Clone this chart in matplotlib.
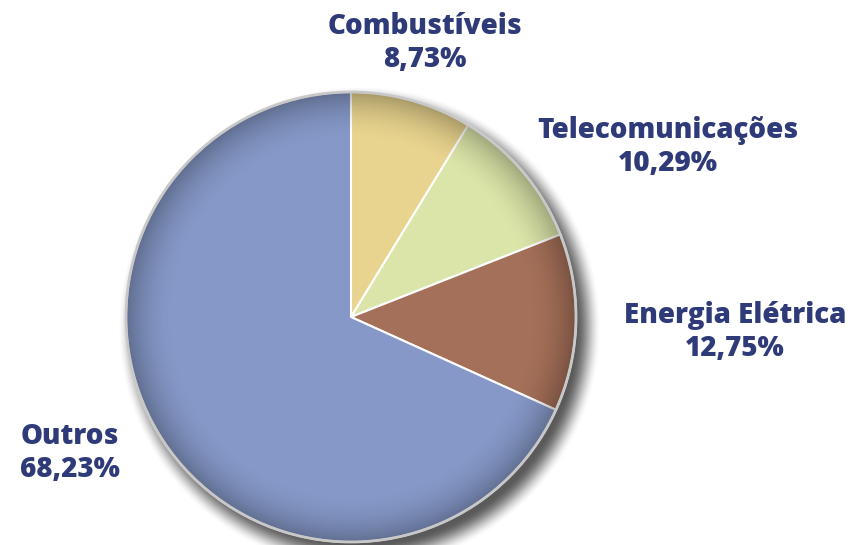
import numpy as np
import matplotlib
matplotlib.use("Agg")
import matplotlib.pyplot as plt
from matplotlib.patches import Circle

# shares of each category (%)
labels = ["Combustíveis", "Telecomunicações", "Energia Elétrica", "Outros"]
values = [8.73, 10.29, 12.75, 68.23]
colors = ["#E8D48E", "#DCE5A9", "#A57059", "#8598C7"]
label_pos = [(425, 502), (668, 398), (735, 213), (70, 92)]

text_color = "#2F3A78"

W, H = 848, 545
fig = plt.figure(figsize=(W / 100, H / 100), dpi=100)
ax = fig.add_axes([0, 0, 1, 1])

cx, cy, R = 351, 228, 225

# soft drop shadow, offset down/right
yy, xx = np.mgrid[0:H, 0:W]
d = np.hypot(xx - (cx + 8), (H - yy) - (cy - 10))
a = np.clip((R + 4 - d) / 26 + 0.5, 0, 1)
a = a * a * (3 - 2 * a) * 0.65
shadow = np.zeros((H, W, 4))
shadow[..., 3] = a
ax.imshow(shadow, extent=(0, W, 0, H), origin="upper", zorder=0)

wedges, _ = ax.pie(values, colors=colors, startangle=90, counterclock=False,
                   center=(cx, cy), radius=R, frame=True,
                   wedgeprops=dict(edgecolor="white", linewidth=1.5))
for w in wedges:
    w.set_zorder(2)
ax.set_xlim(0, W)
ax.set_ylim(0, H)
ax.set_aspect("equal")
ax.axis("off")

# rim darkening
r = np.hypot(xx - cx, (H - yy) - cy) / R
t = np.clip((r - 0.78) / 0.22, 0, 1)
rim = np.zeros((H, W, 4))
rim[..., 3] = 0.28 * t ** 2
im = ax.imshow(rim, extent=(0, W, 0, H), origin="upper", zorder=3)
clip = Circle((cx, cy), R, transform=ax.transData)
im.set_clip_path(clip)

ax.add_patch(Circle((cx, cy), R, fill=False, edgecolor="#C8C8C8",
                    linewidth=2, zorder=4))

for name, v, (x, y) in zip(labels, values, label_pos):
    txt = name + "\n" + f"{v:.2f}".replace(".", ",") + "%"
    ax.text(x, y, txt, ha="center", va="center", fontsize=20,
            fontweight=800, color=text_color, family="Open Sans",
            linespacing=1.15, zorder=5)

fig.savefig("out.png", dpi=100)
